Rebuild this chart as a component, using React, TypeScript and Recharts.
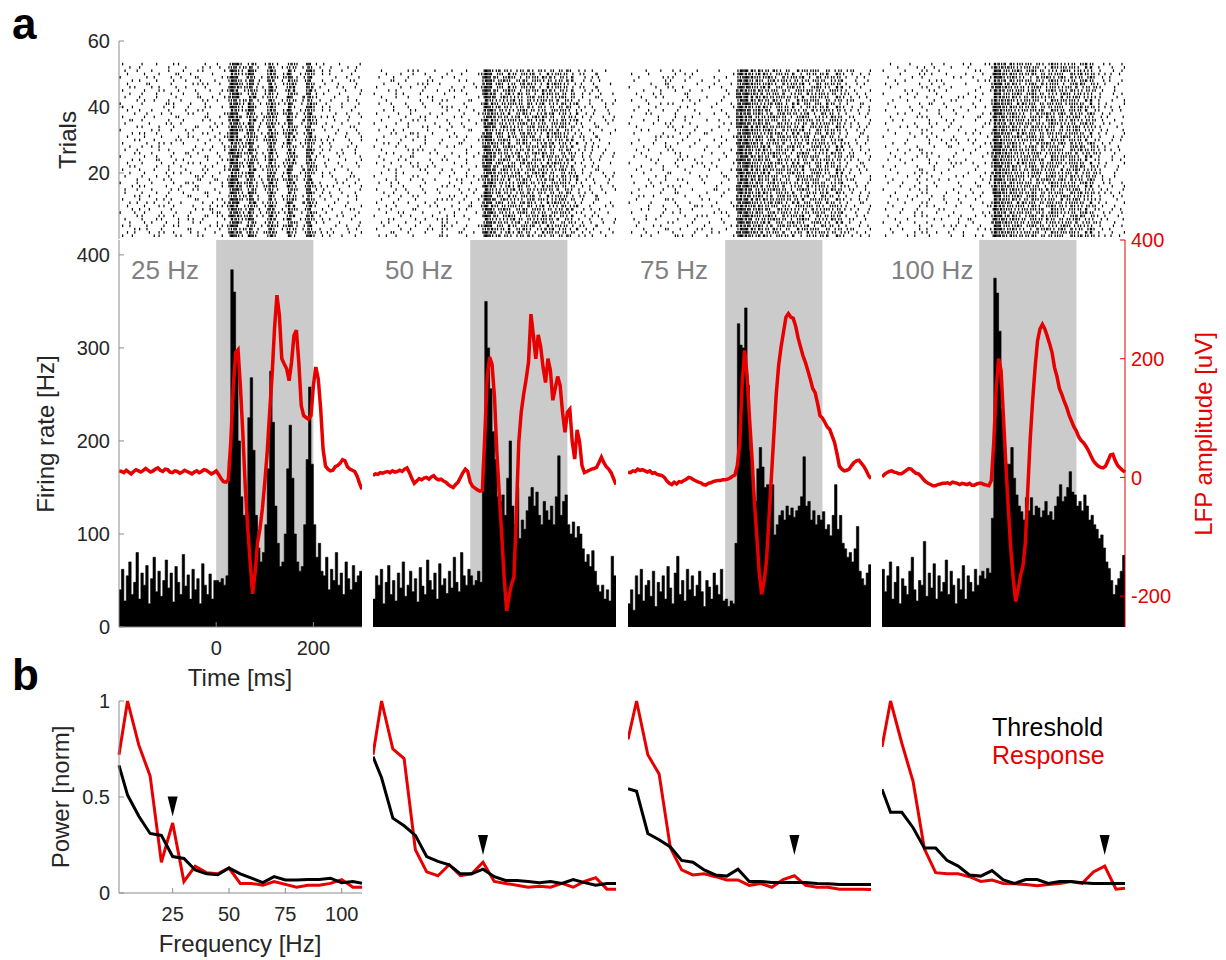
import React from "react";
import {
  Area,
  ComposedChart,
  Line,
  ReferenceArea,
  Scatter,
  ScatterChart,
  XAxis,
  YAxis,
} from "recharts";

const FONT = '"Liberation Sans", Arial, Helvetica, sans-serif';
const RED = "#e60000";
const AXIS = "#8c8c8c";
const INK = "#262626";
const SHADE = "#cbcbcb";

// one column per stimulation frequency
const stimLabels = ["25 Hz", "50 Hz", "75 Hz", "100 Hz"];

// time bins (5 ms) starting at -200 ms
const binStart = -200;
const binWidth = 5;
const timeTicks = [0, 200];
const rateTicks = [0, 100, 200, 300, 400];
const lfpTicks = [-200, 0, 200, 400];
const trialTicks = [20, 40, 60];

// PSTH firing rate [Hz], 100 bins of 5 ms from -200 ms
const rate25 = [
  40, 62, 28, 55, 70, 35, 48, 80, 30, 58, 45, 66, 25, 52, 75, 38, 60, 33, 50, 72,
  42, 58, 27, 65, 48, 35, 78, 44, 56, 30, 62, 40, 52, 25, 68, 45, 35, 57, 30, 50,
  50, 48, 52, 45, 55, 180, 384, 360, 290, 200, 140, 120, 130, 225, 268, 190, 120, 85, 70, 80,
  110, 170, 275, 220, 130, 90, 65, 70, 100, 170, 217, 160, 100, 70, 60, 65, 110, 180, 258, 175,
  110, 75, 90, 60, 55, 75, 40, 62, 50, 80, 45, 58, 35, 70, 52, 40, 66, 48, 55, 60,
];
const rate50 = [
  30, 55, 45, 62, 25, 48, 66, 35, 50, 28, 58, 42, 70, 33, 45, 60, 38, 52, 27, 64,
  44, 35, 72, 50, 40, 58, 30, 68, 45, 52, 36, 60, 42, 75, 48, 38, 80, 55, 45, 62,
  55, 45, 50, 60, 48, 175, 350, 300, 256, 210, 180, 140, 135, 142, 120, 160, 200, 130, 110, 150,
  95, 115, 105, 125, 140, 150, 130, 145, 120, 110, 135, 125, 115, 130, 110, 140, 184, 120, 135, 142,
  110, 100, 113, 96, 108, 100, 84, 70, 78, 65, 82, 60, 45, 38, 45, 30, 40, 28, 76, 55,
];
const rate75 = [
  25, 40, 18, 55, 35, 62, 28, 45, 50, 33, 60, 22, 48, 38, 55, 30, 65, 42, 25, 58,
  76, 35, 50, 28, 62, 40, 55, 33, 45, 60, 38, 22, 50, 43, 30, 58, 45, 35, 62, 28,
  30, 22, 28, 25, 90, 326, 303, 300, 343, 260, 190, 150, 135, 170, 193, 172, 150, 153, 130, 153,
  99, 110, 120, 125, 115, 130, 120, 128, 118, 125, 130, 140, 183, 130, 135, 115, 125, 110, 120, 115,
  124, 105, 110, 98, 120, 153, 105, 120, 90, 84, 75, 80, 70, 84, 108, 60, 52, 45, 58, 67,
];
const rate100 = [
  62, 38, 55, 70, 30, 48, 65, 25, 52, 44, 35, 60, 75, 40, 28, 50, 45, 92, 33, 58,
  42, 68, 30, 55, 38, 48, 72, 35, 60, 45, 25, 52, 40, 66, 30, 55, 48, 38, 62, 45,
  55, 60, 52, 63, 58, 117, 375, 359, 318, 235, 193, 175, 175, 193, 160, 142, 130, 124, 115, 139,
  125, 139, 120, 130, 128, 118, 125, 135, 120, 124, 115, 130, 140, 153, 135, 140, 150, 167, 145, 142,
  130, 135, 125, 142, 130, 115, 120, 110, 105, 95, 99, 85, 70, 63, 50, 35, 45, 52, 60, 77,
];

// LFP [uV], every 5 ms from -200 to 300 ms
const lfp25 = [
  11, 10, 8, 12, 9, 6, 10, 13, 11, 9, 12, 15, 12, 9, 11, 14, 16, 12, 10, 14,
  13, 9, 8, 11, 10, 7, 9, 12, 10, 8, 6, 9, 11, 8, 10, 13, 12, 9, 6, 8, 11,
  5, -2, -7, -8, -4, 60, 150, 210, 215, 150, 71, -19, -87, -144, -196, -161, -110, -87, -53, -8,
  43, 110, 172, 251, 307, 273, 200, 191, 183, 163, 194, 239, 248, 194, 121, 104, 101, 98, 104, 155,
  186, 166, 115, 47, 19, 14, 11, 12, 18, 20, 24, 30, 28, 18, 14, 12, 10, 2, -10, -20,
];
const lfp50 = [
  3, 6, 5, 8, 7, 9, 10, 8, 11, 9, 10, 12, 10, 14, 16, 8, -2, -10, -6, -2,
  -4, -1, 0, -3, 1, 3, -2, -4, -3, -6, -8, -12, -15, -17, -12, -8, 0, 8, 14, 10, -8,
  -15, -18, -21, -23, -22, 70, 170, 203, 190, 135, 40, -30, -99, -170, -225, -200, -180, -168, -60, 60,
  110, 140, 165, 194, 275, 239, 200, 240, 220, 185, 160, 200, 180, 130, 150, 170, 155, 110, 76, 110,
  115, 60, 31, 80, 60, 20, 8, 10, 12, 14, 15, 17, 25, 34, 25, 18, 14, 8, -2, -12,
];
const lfp75 = [
  9, 8, 11, 10, 14, 12, 13, 11, 9, 11, 7, 8, 5, 4, 3, 0, -6, -10, -12, -8,
  -11, -7, -8, -5, -3, 0, -1, -4, -6, -8, -9, -12, -13, -10, -9, -7, -6, -5, -5, -4, -4,
  -3, -1, 2, 4, 20, 59, 160, 214, 172, 100, 35, -40, -99, -160, -197, -175, -140, -70, 0, 70,
  140, 189, 220, 245, 270, 276, 270, 268, 255, 235, 220, 205, 194, 180, 166, 150, 143, 125, 104, 100,
  93, 85, 81, 70, 59, 40, 19, 14, 11, 12, 14, 20, 25, 28, 29, 24, 19, 12, 3, -2,
];
const lfp100 = [
  1, 5, 8, 10, 11, 9, 8, 6, 6, 9, 12, 15, 14, 10, 7, 6, 2, -3, -7, -10,
  -12, -14, -14, -12, -11, -10, -10, -9, -11, -8, -9, -10, -12, -10, -11, -12, -10, -13, -13, -11, -10,
  -10, -12, -13, -14, -5, 60, 150, 200, 180, 100, 20, -54, -120, -170, -209, -190, -165, -150, -110, -20,
  65, 130, 185, 230, 250, 258, 250, 238, 225, 210, 185, 170, 150, 140, 128, 118, 105, 95, 85, 78,
  68, 62, 58, 52, 45, 36, 28, 23, 19, 17, 16, 19, 28, 38, 39, 28, 20, 16, 12, 9,
];

// spike rasters: one string per trial (trial 1 first), each hex digit is a 4-bit mask.
// before the space: -200..20 ms, 5 ms bins; after the space: 20..300 ms, 2.5 ms bins
const raster25 = [
  "44028140A02 1FA43E802E801C803E8104010020", "1208A204810 3ED85A415B403A405D4210800401",
  "0290400C104 2B929C201D0229411A0402000810", "4810228004A 5FC06D0436A15E209E0000201004",
  "08241082408 17E826809A2016A03C2080040002", "2041408A201 0DA4BE002D813C045A8104000100",
  "0140A20818A 3F695C421E402D803B0400108020", "8220410402C 1BD23A0856909E0216A020010004",
  "04880401260 2FA89E103B021AA05C0101000240", "1020A20204A 5EC12D409E8059802E4008002001",
  "09120840221 37E01B822A403E019D2000400800", "4081240180A 1FD45E201C812B403A8040080010",
  "0288100C080 2B929C201D0229411A0402000810", "20410820184 1FA43E802E801C803E8104010020",
  "21040482810 17E826809A2016A03C2080040002", "04A01041802 3ED85A415B403A405D4210800401",
  "8104021A042 3F695C421E402D803B0400108020", "01082400C18 5FC06D0436A15E209E0000201004",
  "20410801A20 2FA89E103B021AA05C0101000240", "08201244104 0DA4BE002D813C045A8104000100",
  "40820810281 37E01B822A403E019D2000400800", "0A010840121 1BD23A0856909E0216A020010004",
  "1040420A408 1FD45E201C812B403A8040080010", "04818120082 5EC12D409E8059802E4008002001",
  "80210404184 17E826809A2016A03C2080040002", "02840218808 3F695C421E402D803B0400108020",
  "21008802241 1FA43E802E801C803E8104010020", "08448001021 2B929C201D0229411A0402000810",
  "4010A420102 0DA4BE002D813C045A8104000100", "02820140844 3ED85A415B403A405D4210800401",
  "1020408A011 5EC12D409E8059802E4008002001", "04A10008284 5FC06D0436A15E209E0000201004",
  "80048412020 1FD45E201C812B403A8040080010", "01408201848 2FA89E103B021AA05C0101000240",
  "20081440012 1BD23A0856909E0216A020010004", "0C400820240 37E01B822A403E019D2000400800",
  "40220180184 3ED85A415B403A405D4210800401", "0210440A081 5FC06D0436A15E209E0000201004",
  "10840810A00 0DA4BE002D813C045A8104000100", "44002208142 1FA43E802E801C803E8104010020",
  "80401A04100 1BD23A0856909E0216A020010004", "01220840288 2B929C201D0229411A0402000810",
  "20810100C21 37E01B822A403E019D2000400800", "08410420804 17E826809A2016A03C2080040002",
  "4020A081042 5EC12D409E8059802E4008002001", "0A048110100 3F695C421E402D803B0400108020",
  "10180402A84 1FD45E201C812B403A8040080010", "04810210410 2FA89E103B021AA05C0101000240",
  "80120441802 5FC06D0436A15E209E0000201004", "10208184020 0DA4BE002D813C045A8104000100",
  "21040820A01 1FA43E802E801C803E8104010020", "08800810244 2B929C201D0229411A0402000810",
  "40410280108 17E826809A2016A03C2080040002",
];
const raster50 = [
  "2440801A020 1FA58A425190A42851A042080100", "01820408184 3ED84591A28419528A1408201004",
  "4011028A040 2B6A51829A4126584A2181040020", "0820410C821 5FC2A1942A584192A50824018000",
  "1204100A200 17D94A2585169A28145208100402", "0280442A010 0EA49258A1492A51829040200801",
  "80110082440 3F9A15A842951A64291802084000", "04280810402 1BE8A4915A2894152A4110020040",
  "2100C004120 2FD15A829A1548A2519804102000", "04402120818 5E6A2954A1A258491A2580200104",
  "40820440108 37C5A12859A42196A48210040010", "1020402A841 1FB85A492158A9125A1408014000",
  "0210A001420 5FC2A1942A584192A50824018000", "08820410084 1FA58A425190A42851A042080100",
  "40440820112 0EA49258A1492A51829040200801", "0108100A400 3ED84591A28419528A1408201004",
  "21200401088 1BE8A4915A2894152A4110020040", "04410840281 2B6A51829A4126584A2181040020",
  "8040A001024 5E6A2954A1A258491A2580200104", "10480210420 17D94A2585169A28145208100402",
  "02401408810 1FB85A492158A9125A1408014000", "0810A240082 3F9A15A842951A64291802084000",
  "41012080420 37C5A12859A42196A48210040010", "0824010A020 2FD15A829A1548A2519804102000",
  "20118004104 3ED84591A28419528A1408201004", "04808120821 17D94A2585169A28145208100402",
  "1002A840020 1FA58A425190A42851A042080100", "80441002408 3F9A15A842951A64291802084000",
  "0A200410180 2B6A51829A4126584A2181040020", "40108408041 2FD15A829A1548A2519804102000",
  "08042401220 5FC2A1942A584192A50824018000", "0141A080400 37C5A12859A42196A48210040010",
  "20880202018 0EA49258A1492A51829040200801", "04020A10840 1FB85A492158A9125A1408014000",
  "80420041082 1BE8A4915A2894152A4110020040", "1010A402010 5E6A2954A1A258491A2580200104",
  "02041420480 17D94A2585169A28145208100402", "40210108041 2B6A51829A4126584A2181040020",
  "08814002104 1BE8A4915A2894152A4110020040", "0082040A820 1FA58A425190A42851A042080100",
  "21040810040 5E6A2954A1A258491A2580200104", "0400108A018 0EA49258A1492A51829040200801",
  "10420280401 1FB85A492158A9125A1408014000", "80481004020 3ED84591A28419528A1408201004",
  "02400821480 3F9A15A842951A64291802084000", "40110400842 5FC2A1942A584192A50824018000",
  "08202A10004 37C5A12859A42196A48210040010", "01840280120 2FD15A829A1548A2519804102000",
  "20820108400 3F9A15A842951A64291802084000", "04108402081 5FC2A1942A584192A50824018000",
  "1002A040820 1FA58A425190A42851A042080100",
];
const raster75 = [
  "04401A20801 3EDA59A42A518214A2981A408102", "41082010240 7BF5A62951824A192548A1240810",
  "0201840A208 2FE69A51A4281952A81425094001", "10240081002 6DB95A261594A25841A284100204",
  "0800A020410 3F7AA5982A1594815A2419820100", "21100810020 7EDC5295A94215A82491A5024010",
  "0104010A804 2BF6A95A4192A5841A294A100820", "40022400128 3DEA6A1592A45128A94125801004",
  "04810420040 7FB95A681A5248A192548A210402", "0082081A201 6ED59A52A1482A951482A9102001",
  "80401040082 3BFAA4965A2198542A1942080140", "1001A002400 7DE669A52A945182A5281A410208",
  "0A200104020 6DB95A261594A25841A284100204", "40041800810 3EDA59A42A518214A2981A408102",
  "08021020184 7EDC5295A94215A82491A5024010", "0120A400080 7BF5A62951824A192548A1240810",
  "20440081020 3DEA6A1592A45128A94125801004", "00810A02004 2FE69A51A4281952A81425094001",
  "40110004818 6ED59A52A1482A951482A9102001", "0200C040020 3F7AA5982A1594815A2419820100",
  "10420100402 7DE669A52A945182A5281A410208", "04020821080 2BF6A95A4192A5841A294A100820",
  "8010100A201 3BFAA4965A2198542A1942080140", "00480A10040 7FB95A681A5248A192548A210402",
  "21000482008 2FE69A51A4281952A81425094001", "04041400210 7EDC5295A94215A82491A5024010",
  "1080A001002 3EDA59A42A518214A2981A408102", "02014040840 3F7AA5982A1594815A2419820100",
  "40210810020 7BF5A62951824A192548A1240810", "08100204108 3DEA6A1592A45128A94125801004",
  "0014A080021 6DB95A261594A25841A284100204", "20020441800 3BFAA4965A2198542A1942080140",
  "04801010204 2BF6A95A4192A5841A294A100820", "1000A208040 7DE669A52A945182A5281A410208",
  "80214040012 7FB95A681A5248A192548A210402", "02082100840 6ED59A52A1482A951482A9102001",
  "40081120004 7EDC5295A94215A82491A5024010", "01401004108 6DB95A261594A25841A284100204",
  "20820810020 7FB95A681A5248A192548A210402", "08100480201 3EDA59A42A518214A2981A408102",
  "0084A010082 3BFAA4965A2198542A1942080140", "41000244020 2FE69A51A4281952A81425094001",
  "04120080810 7DE669A52A945182A5281A410208", "10240180004 7BF5A62951824A192548A1240810",
  "02041042008 6ED59A52A1482A951482A9102001", "8010A200420 3F7AA5982A1594815A2419820100",
  "00418008102 2BF6A95A4192A5841A294A100820", "20014102040 3DEA6A1592A45128A94125801004",
  "0802A040108 2BF6A95A4192A5841A294A100820", "40801120001 3EDA59A42A518214A2981A408102",
  "01042408040 2FE69A51A4281952A81425094001",
];
const raster100 = [
  "40241008424 1FDA6A529A1452A81A594A210810", "0804A210400 2EB5A9254A821A952A4198200401",
  "10812004012 4FE95A482195A45A19285A041000", "0201084A208 0FCA95A15A284916A25248100204",
  "81042001040 37D6A52895A12A495184A2900100", "04200481180 1EBA5A942A519428A5A124084002",
  "2004A010822 2FE59A425A192A84159A0A410020", "01048204004 8DAC6952A1485A924A1594021004",
  "40820140040 1F6AA4952A581A942A5181200408", "08012402081 4ED952A89A415A291A48A5040100",
  "2040A020804 2FB5A19A5428A9512A9418208001", "02081041020 0EDA9A451A925418A5A249100040",
  "10220840208 0FCA95A15A284916A25248100204", "0400A021044 1FDA6A529A1452A81A594A210810",
  "80112004080 1EBA5A942A519428A5A124084002", "01042200818 2EB5A9254A821A952A4198200401",
  "20810401020 8DAC6952A1485A924A1594021004", "08022110004 4FE95A482195A45A19285A041000",
  "40210802408 4ED952A89A415A291A48A5040100", "0204A080102 37D6A52895A12A495184A2900100",
  "10018410020 0EDA9A451A925418A5A249100040", "84020404010 2FE59A425A192A84159A0A410020",
  "0040120A842 2FB5A19A5428A9512A9418208001", "21081010200 1F6AA4952A581A942A5181200408",
  "04022104004 2EB5A9254A821A952A4198200401", "1040A802081 37D6A52895A12A495184A2900100",
  "02118000420 1FDA6A529A1452A81A594A210810", "40020418008 2FE59A425A192A84159A0A410020",
  "08401021042 4FE95A482195A45A19285A041000", "0020108A120 1F6AA4952A581A942A5181200408",
  "80042204001 0FCA95A15A284916A25248100204", "04108800248 2FB5A19A5428A9512A9418208001",
  "2000A041020 1EBA5A942A519428A5A124084002", "01220810804 0EDA9A451A925418A5A249100040",
  "40041208002 8DAC6952A1485A924A1594021004", "08801024020 4ED952A89A415A291A48A5040100",
  "1002A080418 1EBA5A942A519428A5A124084002", "02410102004 4FE95A482195A45A19285A041000",
  "40082104100 1F6AA4952A581A942A5181200408", "04108020822 1FDA6A529A1452A81A594A210810",
  "20011840040 2FB5A19A5428A9512A9418208001", "0820040A008 2EB5A9254A821A952A4198200401",
  "01042081420 0EDA9A451A925418A5A249100040", "80220200104 0FCA95A15A284916A25248100204",
  "00481420020 4ED952A89A415A291A48A5040100", "1000A108008 37D6A52895A12A495184A2900100",
  "42010840200 2FE59A425A192A84159A0A410020", "04401280012 8DAC6952A1485A924A1594021004",
  "20088004840 4FE95A482195A45A19285A041000", "01014820204 1FDA6A529A1452A81A594A210810",
  "8040A100028 0FCA95A15A284916A25248100204", "02024408100 2EB5A9254A821A952A4198200401",
  "10100840482 8DAC6952A1485A924A1594021004",
];

// power spectra (normalised), Threshold vs Response
const freqs = [1.2, 5, 10, 15, 20, 25, 30, 35, 40, 45, 50, 55, 60, 65, 70, 75, 80, 85, 90, 95, 100, 105, 109];
const freqTicks = [25, 50, 75, 100];
const powerTicks = [0, 0.5, 1];
const thr25 = [0.665, 0.51, 0.4, 0.31, 0.3, 0.19, 0.18, 0.12, 0.1, 0.095, 0.13, 0.1, 0.077, 0.054, 0.085, 0.068, 0.068, 0.07, 0.07, 0.077, 0.054, 0.06, 0.05];
const resp25 = [0.72, 1.0, 0.77, 0.61, 0.16, 0.365, 0.06, 0.14, 0.106, 0.1, 0.13, 0.05, 0.05, 0.04, 0.06, 0.045, 0.03, 0.04, 0.04, 0.05, 0.07, 0.03, 0.03];
const thr50 = [0.71, 0.6, 0.39, 0.35, 0.3, 0.19, 0.165, 0.147, 0.1, 0.1, 0.124, 0.085, 0.065, 0.065, 0.06, 0.054, 0.06, 0.05, 0.07, 0.054, 0.04, 0.05, 0.05];
const resp50 = [0.72, 1.0, 0.75, 0.7, 0.225, 0.11, 0.09, 0.147, 0.09, 0.1, 0.16, 0.06, 0.05, 0.04, 0.03, 0.035, 0.03, 0.05, 0.03, 0.06, 0.08, 0.02, 0.02];
const thr75 = [0.543, 0.53, 0.31, 0.277, 0.24, 0.17, 0.16, 0.12, 0.094, 0.088, 0.124, 0.06, 0.06, 0.055, 0.055, 0.055, 0.055, 0.05, 0.048, 0.044, 0.044, 0.044, 0.044];
const resp75 = [0.8, 1.0, 0.72, 0.62, 0.235, 0.12, 0.094, 0.1, 0.085, 0.068, 0.068, 0.04, 0.05, 0.03, 0.07, 0.09, 0.04, 0.03, 0.03, 0.02, 0.02, 0.02, 0.018];
const thr100 = [0.54, 0.42, 0.42, 0.34, 0.235, 0.235, 0.17, 0.14, 0.094, 0.088, 0.117, 0.068, 0.05, 0.07, 0.07, 0.05, 0.06, 0.06, 0.054, 0.05, 0.05, 0.05, 0.05];
const resp100 = [0.76, 1.0, 0.78, 0.58, 0.23, 0.106, 0.1, 0.1, 0.085, 0.06, 0.068, 0.05, 0.048, 0.044, 0.038, 0.044, 0.05, 0.06, 0.05, 0.11, 0.14, 0.02, 0.025];

// arrowheads marking the stimulation frequency
const markerFreqs = [25, 50, 75, 100];
const markerLevels = [0.45, 0.25, 0.25, 0.25];

// layout (px)
const colLeft = [119, 373, 628, 882];
const colWidth = 243;
const labelShift = [12, 12, 12, 9];

const columns = [
  { rate: rate25, lfp: lfp25, raster: raster25, thr: thr25, resp: resp25 },
  { rate: rate50, lfp: lfp50, raster: raster50, thr: thr50, resp: resp50 },
  { rate: rate75, lfp: lfp75, raster: raster75, thr: thr75, resp: resp75 },
  { rate: rate100, lfp: lfp100, raster: raster100, thr: thr100, resp: resp100 },
];

function toSpikes(rows: string[]) {
  const out: { t: number; trial: number }[] = [];
  rows.forEach((row, r) => {
    const [pre, post] = row.split(" ");
    // coarse part: 20 ms per digit, ending at +20 ms
    [...pre].forEach((ch, j) => {
      const v = parseInt(ch, 16);
      const d = 11 - pre.length + j;
      for (let b = 0; b < 4; b++) {
        if (v & (8 >> b)) out.push({ t: -200 + d * 20 + b * 5 + 2.5, trial: r + 1 });
      }
    });
    // fine part: 10 ms per digit, from +20 ms
    [...post].forEach((ch, j) => {
      const v = parseInt(ch, 16);
      for (let b = 0; b < 4; b++) {
        if (v & (8 >> b)) out.push({ t: 20 + j * 10 + b * 2.5 + 1.25, trial: r + 1 });
      }
    });
  });
  return out;
}

const rasterData = columns.map((c) => toSpikes(c.raster));
const psthData = columns.map((c) =>
  c.lfp.map((v, k) => ({
    t: binStart + k * binWidth,
    rate: c.rate[Math.min(k, c.rate.length - 1)],
    lfp: v,
  }))
);
const spectrumData = columns.map((c) =>
  freqs.map((f, k) => ({ f, thr: c.thr[k], resp: c.resp[k] }))
);

const tickStyle = { fontSize: 20, fill: INK, fontFamily: FONT };

function SpikeTick(props: any) {
  const { cx, cy } = props;
  if (cx == null || cy == null) return null;
  return <rect x={cx - 0.6} y={cy - 1.3} width={1.2} height={2.6} fill="#000" />;
}

function Arrowhead(props: any) {
  const { cx, cy } = props;
  if (cx == null || cy == null) return null;
  return <path d={`M${cx - 5},${cy - 10}L${cx + 5},${cy - 10}L${cx},${cy + 10}Z`} fill="#000" />;
}

function RasterPanel({ i }: { i: number }) {
  const first = i === 0;
  const yw = first ? 119 : 0;
  const mt = 12;
  return (
    <div style={{ position: "absolute", left: colLeft[i] - yw, top: 41 - mt }}>
      <ScatterChart
        width={yw + colWidth}
        height={mt + 198 + 2}
        margin={{ top: mt, right: 0, bottom: 2, left: 0 }}
      >
        <XAxis type="number" dataKey="t" domain={[-200, 300]} hide />
        <YAxis
          type="number"
          dataKey="trial"
          domain={[0, 60]}
          ticks={trialTicks}
          hide={!first}
          width={119}
          tick={tickStyle}
          tickSize={-5}
          tickMargin={14}
          stroke={AXIS}
        />
        <Scatter data={rasterData[i]} shape={SpikeTick} isAnimationActive={false} />
      </ScatterChart>
    </div>
  );
}

function PsthPanel({ i }: { i: number }) {
  const first = i === 0;
  const last = i === 3;
  const yw = first ? 119 : 0;
  const rw = last ? 101 : 0;
  const xh = first ? 60 : 0;
  const mt = 12;
  return (
    <div style={{ position: "absolute", left: colLeft[i] - yw, top: 240 - mt }}>
      <ComposedChart
        width={yw + colWidth + rw}
        height={mt + 387 + xh}
        data={psthData[i]}
        margin={{ top: mt, right: 0, bottom: 0, left: 0 }}
      >
        <XAxis
          type="number"
          dataKey="t"
          domain={[-200, 300]}
          ticks={timeTicks}
          hide={!first}
          height={60}
          tick={tickStyle}
          tickSize={-5}
          tickMargin={19}
          stroke={AXIS}
        />
        <YAxis
          yAxisId="rate"
          type="number"
          domain={[0, 416]}
          ticks={rateTicks}
          hide={!first}
          width={119}
          tick={tickStyle}
          tickSize={-5}
          tickMargin={14}
          stroke={AXIS}
        />
        <YAxis
          yAxisId="lfp"
          type="number"
          orientation="right"
          domain={[-252, 400]}
          ticks={lfpTicks}
          hide={!last}
          width={101}
          tick={{ ...tickStyle, fill: RED }}
          tickSize={-5}
          tickMargin={11}
          stroke={RED}
        />
        <ReferenceArea
          yAxisId="rate"
          x1={0}
          x2={200}
          y1={0}
          y2={416}
          fill={SHADE}
          fillOpacity={1}
          stroke="none"
          zIndex={-50}
        />
        <Area
          yAxisId="rate"
          type="stepAfter"
          dataKey="rate"
          stroke="#000"
          strokeWidth={0.6}
          fill="#000"
          fillOpacity={1}
          dot={false}
          activeDot={false}
          isAnimationActive={false}
        />
        <Line
          yAxisId="lfp"
          type="linear"
          dataKey="lfp"
          stroke={RED}
          strokeWidth={3.5}
          dot={false}
          activeDot={false}
          isAnimationActive={false}
        />
      </ComposedChart>
    </div>
  );
}

function SpectrumPanel({ i }: { i: number }) {
  const first = i === 0;
  const yw = first ? 119 : 0;
  const xh = first ? 60 : 0;
  const mb = first ? 0 : 4;
  const mt = 12;
  return (
    <div style={{ position: "absolute", left: colLeft[i] - yw, top: 701 - mt }}>
      <ComposedChart
        width={yw + colWidth}
        height={mt + 192 + xh + mb}
        data={spectrumData[i]}
        margin={{ top: mt, right: 0, bottom: mb, left: 0 }}
      >
        <XAxis
          type="number"
          dataKey="f"
          domain={[1.2, 109]}
          ticks={freqTicks}
          hide={!first}
          height={60}
          tick={tickStyle}
          tickSize={-5}
          tickMargin={19}
          stroke={AXIS}
        />
        <YAxis
          type="number"
          domain={[0, 1]}
          ticks={powerTicks}
          hide={!first}
          width={119}
          tick={tickStyle}
          tickSize={-5}
          tickMargin={14}
          stroke={AXIS}
        />
        <Line
          dataKey="resp"
          stroke={RED}
          strokeWidth={3}
          dot={false}
          activeDot={false}
          isAnimationActive={false}
        />
        <Line
          dataKey="thr"
          stroke="#000"
          strokeWidth={3}
          dot={false}
          activeDot={false}
          isAnimationActive={false}
        />
        <Scatter
          data={[{ f: markerFreqs[i], m: markerLevels[i] }]}
          dataKey="m"
          shape={Arrowhead}
          isAnimationActive={false}
        />
      </ComposedChart>
    </div>
  );
}

export default function App() {
  const idx = [0, 1, 2, 3];
  return (
    <div
      style={{
        position: "absolute",
        left: 0,
        top: 0,
        width: 1226,
        height: 960,
        background: "#fff",
        overflow: "hidden",
        fontFamily: FONT,
      }}
    >
      {idx.map((i) => (
        <RasterPanel key={`r${i}`} i={i} />
      ))}
      {idx.map((i) => (
        <PsthPanel key={`p${i}`} i={i} />
      ))}
      {idx.map((i) => (
        <SpectrumPanel key={`s${i}`} i={i} />
      ))}
      <svg
        width={1226}
        height={960}
        style={{ position: "absolute", left: 0, top: 0, pointerEvents: "none" }}
        fontFamily={FONT}
      >
        <text x={12} y={39} fontSize={44} fontWeight="bold" fill="#000">a</text>
        <text x={12} y={690} fontSize={44} fontWeight="bold" fill="#000">b</text>
        <text transform="translate(67,140) rotate(-90)" textAnchor="middle" dominantBaseline="central" fontSize={24} fill={INK}>Trials</text>
        <text transform="translate(45,434) rotate(-90)" textAnchor="middle" dominantBaseline="central" fontSize={24} fill={INK}>Firing rate [Hz]</text>
        <text transform="translate(1203,434) rotate(-90)" textAnchor="middle" dominantBaseline="central" fontSize={24} fill={RED}>LFP amplitude [uV]</text>
        <text x={240} y={677} textAnchor="middle" dominantBaseline="central" fontSize={24} fill={INK}>Time [ms]</text>
        <text transform="translate(60,797) rotate(-90)" textAnchor="middle" dominantBaseline="central" fontSize={24} fill={INK}>Power [norm]</text>
        <text x={240} y={943} textAnchor="middle" dominantBaseline="central" fontSize={24} fill={INK}>Frequency [Hz]</text>
        {stimLabels.map((s, i) => (
          <text key={s} x={colLeft[i] + labelShift[i]} y={279} fontSize={26} fill="#808080">{s}</text>
        ))}
        <text x={992} y={736} fontSize={25} fill="#000">Threshold</text>
        <text x={992} y={764} fontSize={25} fill={RED}>Response</text>
      </svg>
    </div>
  );
}
